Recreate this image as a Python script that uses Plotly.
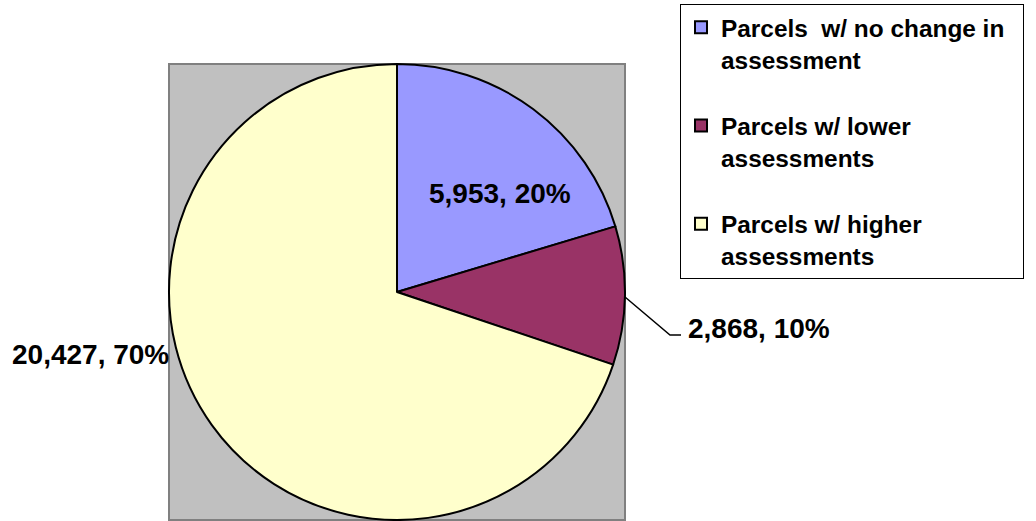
import plotly.graph_objects as go

labels = ["Parcels  w/ no change in&nbsp;&nbsp;<br>assessment<br> ",
          "Parcels w/ lower<br>assessments<br> ",
          "Parcels w/ higher<br>assessments"]
values = [5953, 2868, 20427]
colors = ["#9999FF", "#993366", "#FFFFCC"]

W, H = 1036, 521
total = sum(values)


def px(x):
    return x / W


def py(y):
    return 1 - y / H


def lab(i):
    return f"{values[i]:,}, {round(100 * values[i] / total)}%"


fig = go.Figure()
fig.add_trace(go.Pie(
    labels=[f"<b>{l}</b>" for l in labels], values=values, sort=False,
    direction="clockwise", rotation=0,
    marker=dict(colors=colors, line=dict(color="black", width=2)),
    textinfo="none", hoverinfo="label+value+percent",
    domain=dict(x=[px(169), px(625)], y=[py(520), py(64)]),
))

font = dict(family="Liberation Sans", size=28, color="black")
fig.add_annotation(x=px(500), y=py(193), xref="paper", yref="paper", text=f"<b>{lab(0)}</b>",
                   showarrow=False, font=font, xanchor="center", yanchor="middle")
fig.add_annotation(x=px(686), y=py(328), xref="paper", yref="paper", text=f"<b>{lab(1)}</b>",
                   showarrow=False, font=font, xanchor="left", yanchor="middle")
fig.add_annotation(x=px(171), y=py(354), xref="paper", yref="paper", text=f"<b>{lab(2)}</b>",
                   showarrow=False, font=font, xanchor="right", yanchor="middle")

fig.add_shape(type="rect", xref="paper", yref="paper", x0=px(169), x1=px(625), y0=py(520), y1=py(64),
              fillcolor="#C0C0C0", line=dict(color="#808080", width=2), layer="below")
fig.add_shape(type="path", xref="paper", yref="paper",
              path=f"M {px(625)},{py(297)} L {px(670)},{py(335)} L {px(681)},{py(335)}",
              line=dict(color="black", width=1.5))

fig.update_layout(
    width=W, height=H, margin=dict(l=0, r=0, t=0, b=0),
    paper_bgcolor="white", plot_bgcolor="white",
    showlegend=True,
    legend=dict(x=px(680), y=py(4), xanchor="left", yanchor="top",
                bordercolor="black", borderwidth=1, bgcolor="white",
                font=dict(family="Liberation Sans", size=24.4, color="black"),
                valign="top", traceorder="normal"),
)

fig.write_html("out.html", config={"displayModeBar": False},
               post_script="document.body.style.margin='0';")
